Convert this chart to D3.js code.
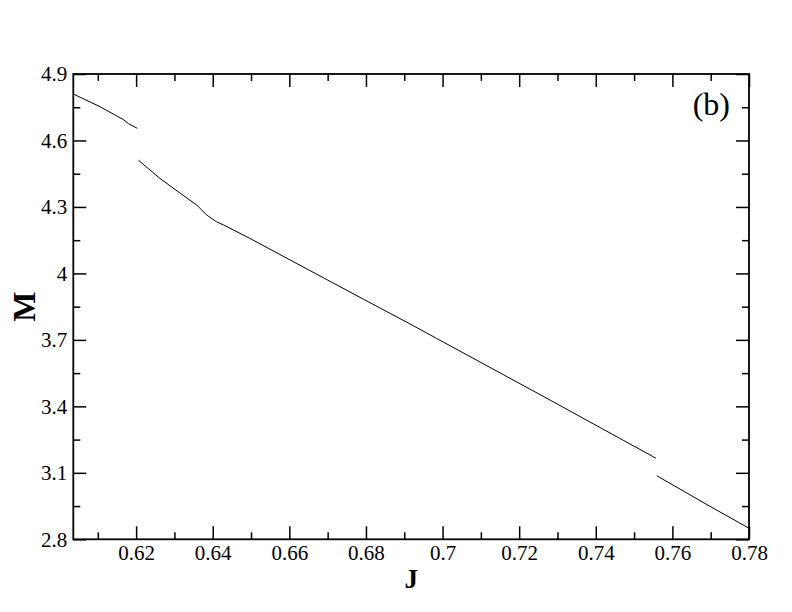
<!DOCTYPE html>
<html>
<head>
<meta charset="utf-8">
<script src="https://cdn.jsdelivr.net/npm/d3@7"></script>
<style>
  body { margin: 0; background: #fff; }
  svg { display: block; }
  text { font-family: "Liberation Serif", "Times New Roman", serif; fill: #000; }
</style>
</head>
<body>
<svg id="chart" width="792" height="612"></svg>
<script>
// Data segments (J, M)
const seg1J = [0.6036, 0.6106, 0.6167, 0.6180, 0.6203];
const seg1M = [4.810, 4.752, 4.694, 4.676, 4.655];
const seg2J = [0.6206, 0.6262, 0.6315, 0.6358, 0.6384, 0.6410, 0.6428, 0.6497, 0.6793, 0.6915, 0.6985, 0.7228, 0.7281, 0.7557];
const seg2M = [4.511, 4.429, 4.362, 4.309, 4.264, 4.233, 4.219, 4.158, 3.884, 3.772, 3.706, 3.478, 3.428, 3.166];
const seg3J = [0.7559, 0.7698, 0.7800];
const seg3M = [3.087, 2.949, 2.850];

const xTicks = [0.62, 0.64, 0.66, 0.68, 0.70, 0.72, 0.74, 0.76, 0.78];
const xTickLabels = ["0.62", "0.64", "0.66", "0.68", "0.7", "0.72", "0.74", "0.76", "0.78"];
const xMinor = [0.61, 0.63, 0.65, 0.67, 0.69, 0.71, 0.73, 0.75, 0.77];
const yTicks = [2.8, 3.1, 3.4, 3.7, 4.0, 4.3, 4.6, 4.9];
const yTickLabels = ["2.8", "3.1", "3.4", "3.7", "4", "4.3", "4.6", "4.9"];
const yMinor = [2.95, 3.25, 3.55, 3.85, 4.15, 4.45, 4.75];

const xLabel = "J";
const yLabel = "M";
const panelLabel = "(b)";

const L = 73.3, R = 749, T = 74, B = 539.3;
const svg = d3.select("#chart");

const x = d3.scaleLinear().domain([0.6036, 0.78]).range([L, R]);
const y = d3.scaleLinear().domain([2.8, 4.9]).range([B, T]);

const majorLen = 13, minorLen = 7;

function ax(gen, tx, ty, vals, len, fmt) {
  const g = svg.append("g").attr("transform", `translate(${tx},${ty})`)
    .call(gen.tickValues(vals).tickSize(len).tickSizeOuter(0).tickFormat(fmt || ""));
  g.select(".domain").remove();
  g.attr("font-family", null).attr("font-size", null);
  g.selectAll(".tick line").attr("stroke", "#000").attr("stroke-width", 1.5);
  return g;
}

// bottom axis (ticks point up inside)
const gb = ax(d3.axisBottom(x), 0, B, xTicks, -majorLen, (d, i) => xTickLabels[i]);
gb.selectAll(".tick text").attr("y", 21).attr("dy", 0)
  .style("font-size", "21px").style("font-family", "'Liberation Serif', serif");
ax(d3.axisBottom(x), 0, B, xMinor, -minorLen);
// top axis
ax(d3.axisTop(x), 0, T, xTicks, -majorLen);
ax(d3.axisTop(x), 0, T, xMinor, -minorLen);
// left axis
const gl = ax(d3.axisLeft(y), L, 0, yTicks, -majorLen, (d, i) => yTickLabels[i]);
gl.selectAll(".tick text").attr("x", -6).attr("dy", "0.32em")
  .style("font-size", "21px").style("font-family", "'Liberation Serif', serif");
ax(d3.axisLeft(y), L, 0, yMinor, -minorLen);
// right axis
ax(d3.axisRight(y), R, 0, yTicks, -majorLen);
ax(d3.axisRight(y), R, 0, yMinor, -minorLen);

// frame
svg.append("rect").attr("x", L).attr("y", T).attr("width", R - L).attr("height", B - T)
  .attr("fill", "none").attr("stroke", "#000").attr("stroke-width", 1.8);

// lines
const line = d3.line().x(d => x(d[0])).y(d => y(d[1]));
[[seg1J, seg1M], [seg2J, seg2M], [seg3J, seg3M]].forEach(([J, M]) => {
  svg.append("path").datum(J.map((j, i) => [j, M[i]]))
    .attr("d", line).attr("fill", "none").attr("stroke", "#000").attr("stroke-width", 1);
});

// axis titles
svg.append("text").attr("x", (L + R) / 2).attr("y", 588).attr("text-anchor", "middle")
  .style("font-size", "27px").attr("font-weight", "bold").text(xLabel);
svg.append("text").attr("transform", `translate(35,${(T + B) / 2}) rotate(-90)`)
  .attr("text-anchor", "middle").style("font-size", "32px").attr("font-weight", "bold").text(yLabel);

// panel label
svg.append("text").attr("x", 730).attr("y", 115).attr("text-anchor", "end")
  .style("font-size", "32px").text(panelLabel);
</script>
</body>
</html>
